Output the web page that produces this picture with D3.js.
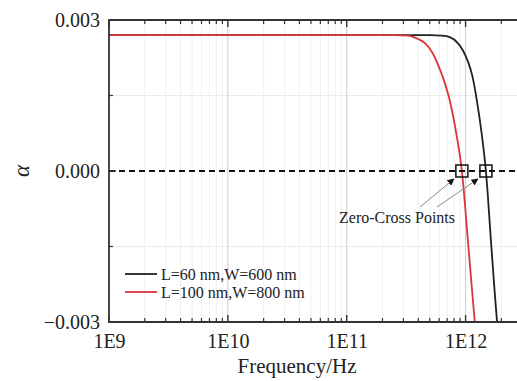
<!DOCTYPE html>
<html><head><meta charset="utf-8">
<script src="https://cdn.jsdelivr.net/npm/d3@7"></script>
<style>body{margin:0;background:#fff}svg{display:block}</style>
</head><body><svg id="c" width="517" height="381"></svg>
<script>
// ---- data ----
const xTickValues = [1e9, 1e10, 1e11, 1e12];
const xTickLabels = ["1E9", "1E10", "1E11", "1E12"];
const yTickValues = [-0.003, 0, 0.003];
const yTickLabels = ["\u22120.003", "0.000", "0.003"];
const yMinorTicks = [-0.0015, 0.0015];
const seriesNames = ["L=60 nm,W=600 nm", "L=100 nm,W=800 nm"];
const seriesColors = ["#222222", "#d8363b"];
const freqBlack  = [1e9, 1e10, 1e11, 5.01e11, 6.31e11, 7.38e11, 8.61e11, 9.48e11, 1.045e12, 1.14e12, 1.245e12, 1.365e12, 1.483e12, 1.648e12, 1.845e12, 1.95e12];
const alphaBlack = [0.0027, 0.0027, 0.0027, 0.0027, 0.00269, 0.00266, 0.00254, 0.0024, 0.00218, 0.00189, 0.0014, 0.00075, 0, -0.0015, -0.00302, -0.0036];
const freqRed  = [1e9, 1e10, 1e11, 2.51e11, 3.27e11, 3.75e11, 4.55e11, 5.2e11, 5.85e11, 6.58e11, 7.38e11, 8.39e11, 9.31e11, 1.057e12, 1.197e12, 1.259e12];
const alphaRed = [0.0027, 0.0027, 0.0027, 0.0027, 0.00269, 0.00265, 0.00254, 0.00237, 0.00212, 0.0018, 0.00139, 0.00072, 0, -0.00151, -0.00302, -0.0036];
const zeroCrossFreq = [9.31e11, 1.483e12];
const annotationText = "Zero-Cross Points";
const xTitle = "Frequency/Hz";
const yTitle = "\u03b1";

// ---- layout ----
const svg = d3.select("#c");
const L = 109, T = 20, B = 322, R = 525;
const font = "'Liberation Serif','Times New Roman',serif";
const x = d3.scaleLog().domain([1e9, Math.pow(10, 12.5)]).range([L, R]);
const y = d3.scaleLinear().domain([-0.003, 0.003]).range([B, T]);

svg.append("rect").attr("width", 517).attr("height", 381).attr("fill", "#fff");
svg.append("defs").append("clipPath").attr("id", "clip")
  .append("rect").attr("x", L).attr("y", T).attr("width", R - L).attr("height", B - T);

// minor x values
const minorX = [];
for (let e = 9; e <= 12; e++) for (let m = 2; m <= 9; m++) {
  const v = m * Math.pow(10, e);
  if (v < x.domain()[1]) minorX.push(v);
}

const grid = svg.append("g");
grid.selectAll(".gm").data(minorX).enter().append("line")
  .attr("x1", d => x(d)).attr("x2", d => x(d)).attr("y1", T).attr("y2", B)
  .attr("stroke", "#f0f0f0").attr("stroke-width", 1);
grid.selectAll(".gy").data(yMinorTicks).enter().append("line")
  .attr("x1", L).attr("x2", R).attr("y1", d => y(d)).attr("y2", d => y(d))
  .attr("stroke", "#ebebeb").attr("stroke-width", 1);
grid.selectAll(".gM").data(xTickValues.slice(1)).enter().append("line")
  .attr("x1", d => x(d)).attr("x2", d => x(d)).attr("y1", T).attr("y2", B)
  .attr("stroke", "#cccccc").attr("stroke-width", 1);

// curves
const line = d3.line().x(d => x(d[0])).y(d => y(d[1])).curve(d3.curveMonotoneX);
const series = [
  d3.zip(freqBlack, alphaBlack),
  d3.zip(freqRed, alphaRed)
];
const curves = svg.append("g").attr("clip-path", "url(#clip)");
series.forEach((s, i) => {
  curves.append("path").datum(s).attr("d", line).attr("fill", "none")
    .attr("stroke", seriesColors[i]).attr("stroke-width", 1.8);
});

// zero dashed line
svg.append("line").attr("x1", L).attr("x2", 517).attr("y1", y(0)).attr("y2", y(0))
  .attr("stroke", "#111").attr("stroke-width", 2).attr("stroke-dasharray", "6,4");

// frame & axes
const axG = svg.append("g");
const xAxisB = d3.axisBottom(x).tickValues(xTickValues).tickFormat((d, i) => xTickLabels[i]).tickSize(0).tickPadding(12);
const gxb = axG.append("g").attr("transform", `translate(0,${B})`).call(xAxisB);
gxb.select(".domain").remove();
gxb.selectAll("text").attr("font-family", font).attr("font-size", 20).attr("fill", "#222");

const yAxis = d3.axisLeft(y).tickValues(yTickValues).tickFormat((d, i) => yTickLabels[i]).tickSize(0).tickPadding(9);
const gy = axG.append("g").attr("transform", `translate(${L},0)`).call(yAxis);
gy.select(".domain").remove();
gy.selectAll("text").attr("font-family", font).attr("font-size", 20).attr("fill", "#222");

// ticks (inward)
[[B, -1], [T, 1]].forEach(([yy, dir]) => {
  axG.selectAll(null).data(minorX).enter().append("line")
    .attr("x1", d => x(d)).attr("x2", d => x(d)).attr("y1", yy).attr("y2", yy + dir * 4)
    .attr("stroke", "#333").attr("stroke-width", 1.2);
  axG.selectAll(null).data(xTickValues).enter().append("line")
    .attr("x1", d => x(d)).attr("x2", d => x(d)).attr("y1", yy).attr("y2", yy + dir * 7)
    .attr("stroke", "#333").attr("stroke-width", 1.4);
});
axG.selectAll(null).data(yMinorTicks).enter().append("line")
  .attr("x1", L).attr("x2", L + 4).attr("y1", d => y(d)).attr("y2", d => y(d))
  .attr("stroke", "#333").attr("stroke-width", 1.2);
axG.selectAll(null).data(yTickValues).enter().append("line")
  .attr("x1", L).attr("x2", L + 7).attr("y1", d => y(d)).attr("y2", d => y(d))
  .attr("stroke", "#333").attr("stroke-width", 1.4);

axG.append("path").attr("d", `M${517},${T}H${L}V${B}H${517}`)
  .attr("fill", "none").attr("stroke", "#333").attr("stroke-width", 1.8);

// titles
svg.append("text").attr("x", 297).attr("y", 373).attr("text-anchor", "middle")
  .attr("font-family", font).attr("font-size", 21).attr("fill", "#222").text(xTitle);
svg.append("text").attr("transform", `translate(29,${y(0)}) rotate(-90)`).attr("text-anchor", "middle")
  .attr("font-family", font).attr("font-size", 23).attr("font-style", "italic").attr("fill", "#222").text(yTitle);

// legend
const lg = svg.append("g");
seriesNames.forEach((n, i) => {
  const yy = 274 + i * 18;
  lg.append("line").attr("x1", 125).attr("x2", 157).attr("y1", yy).attr("y2", yy)
    .attr("stroke", seriesColors[i]).attr("stroke-width", 1.8);
  lg.append("text").attr("x", 161).attr("y", yy + 5.5).attr("font-family", font)
    .attr("font-size", 16).attr("fill", "#222").text(n);
});

// annotation
const defs = svg.select("defs");
defs.append("marker").attr("id", "arr").attr("viewBox", "0 0 10 10").attr("refX", 9).attr("refY", 5)
  .attr("markerWidth", 7).attr("markerHeight", 7).attr("markerUnits", "userSpaceOnUse").attr("orient", "auto")
  .append("path").attr("d", "M0,0L10,5L0,10z").attr("fill", "#111");
const tx = 397, ty = 223;
svg.append("text").attr("x", tx).attr("y", ty).attr("text-anchor", "middle").attr("font-family", font)
  .attr("font-size", 16).attr("fill", "#222").text(annotationText);
const starts = [[tx + 23, ty - 16], [tx + 40, ty - 16]];
zeroCrossFreq.forEach((f, i) => {
  svg.append("line").attr("x1", starts[i][0]).attr("y1", starts[i][1])
    .attr("x2", x(f) - 8).attr("y2", y(0) + 8)
    .attr("stroke", "#888").attr("stroke-width", 1).attr("marker-end", "url(#arr)");
});
svg.selectAll(".zc").data(zeroCrossFreq).enter().append("rect")
  .attr("x", d => x(d) - 6).attr("y", y(0) - 6).attr("width", 12).attr("height", 12)
  .attr("fill", "none").attr("stroke", "#111").attr("stroke-width", 1.5);
</script></body></html>
